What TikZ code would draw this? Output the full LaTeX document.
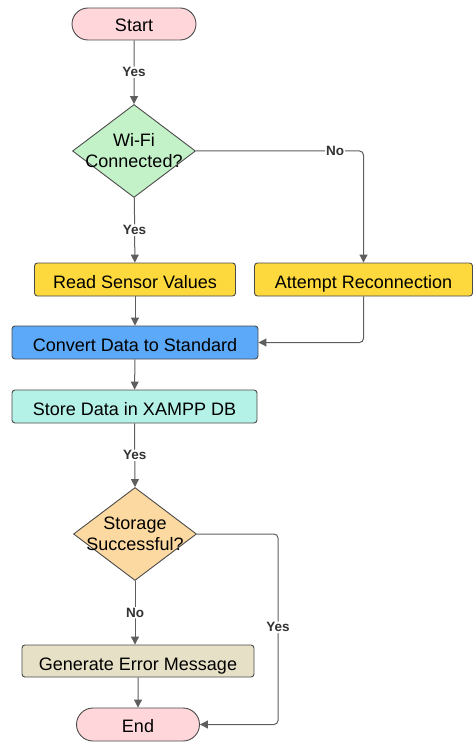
\documentclass[tikz,border=0pt]{standalone}
\usepackage{fontspec}
\setmainfont{Liberation Sans}
\usetikzlibrary{shapes.geometric,shapes.misc,arrows.meta}

\definecolor{edgegray}{HTML}{5E5E5E}
\definecolor{borderc}{HTML}{4A4A4A}
\definecolor{termfill}{HTML}{FFD7DB}
\definecolor{greenfill}{HTML}{C4F2C8}
\definecolor{yellowfill}{HTML}{FDD93D}
\definecolor{bluefill}{HTML}{5BA9F8}
\definecolor{tealfill}{HTML}{B4F1E7}
\definecolor{orangefill}{HTML}{FCD9A1}
\definecolor{beigefill}{HTML}{E6E1C6}

\begin{document}
\begin{tikzpicture}[x=1pt,y=-1pt,
  mainfont/.style={font=\fontsize{18}{21}\selectfont},
  base/.style={draw=borderc, line width=0.9pt, mainfont, text=black, inner sep=0pt},
  term/.style={base, rounded rectangle, minimum width=124pt, minimum height=32pt, text height=16pt, text depth=0pt},
  proc/.style={base, rectangle, rounded corners=3pt, minimum height=33pt, text height=18pt, text depth=0pt},
  decision/.style={base, diamond, minimum width=123pt, minimum height=93pt},
  arr/.style={draw=edgegray, line width=1pt, rounded corners=4pt, -{Triangle[width=8pt,length=8pt]}},
  lbl/.style={fill=white, text=black!80, inner sep=1pt, font=\fontsize{13.5}{15}\selectfont\bfseries}
]
\useasboundingbox (0,0) rectangle (473,743);

% nodes
\node[term, fill=termfill] (start) at (134,24) {Start};
\node[decision, fill=greenfill, label={[mainfont, align=center]center:Wi-Fi\\Connected?}] (wifi) at (134,151) {};
\node[proc, fill=yellowfill, minimum width=201pt] (read) at (135,279.5) {Read Sensor Values};
\node[proc, fill=yellowfill, minimum width=218pt] (attempt) at (363.5,279.5) {Attempt Reconnection};
\node[proc, fill=bluefill, minimum width=246pt] (convert) at (135,342.5) {Convert Data to Standard};
\node[proc, fill=tealfill, minimum width=245pt] (store) at (134.5,406.5) {Store Data in XAMPP DB};
\node[decision, fill=orangefill, label={[mainfont, align=center]center:Storage\\Successful?}] (storage) at (135,534) {};
\node[proc, fill=beigefill, minimum width=232pt, minimum height=32pt] (gen) at (138,661) {Generate Error Message};
\node[term, fill=termfill, minimum width=123pt, minimum height=33pt] (end) at (138,724.5) {End};

\coordinate (rt) at (278,534);

% connectors
\draw[arr] (start) -- node[lbl]{Yes} (wifi);
\draw[arr] (wifi) -- node[lbl]{Yes} (read);
\draw[arr] (wifi.east) -| node[lbl, pos=0.415]{No} (attempt.north);
\draw[arr] (read) -- (convert);
\draw[arr] (attempt.south) |- (convert.east);
\draw[arr] (convert) -- (store);
\draw[arr] (store.south) -- node[lbl]{Yes} (storage.north);
\draw[arr] (storage.south) -- node[lbl]{No} (storage.south |- gen.north);
\draw[arr] (gen) -- (end);
\draw[arr] (storage.east) -- (rt) |- node[lbl, pos=0.245]{Yes} (end.east);
\end{tikzpicture}
\end{document}
